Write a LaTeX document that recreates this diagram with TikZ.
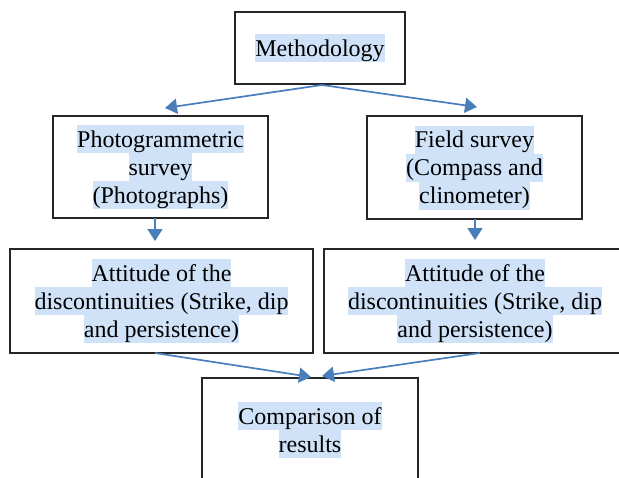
\documentclass[tikz,border=0pt]{standalone}
\usepackage{fontspec}
\setmainfont{Liberation Serif}
\usetikzlibrary{arrows.meta}
\definecolor{hlc}{HTML}{CFE2F8}
\definecolor{arrc}{HTML}{4A7EBB}
\newcommand\hl[1]{{\setlength{\fboxsep}{0pt}\colorbox{hlc}{\rule[-6pt]{0pt}{28pt}#1}}}
\begin{document}
\begin{tikzpicture}[x=1pt,y=-1pt,
  box/.style={draw=black!85,line width=1.2pt,fill=white,inner sep=0pt,align=center,
    font=\fontsize{24}{28}\selectfont},
  arr/.style={draw=arrc,line width=1.7pt,-{Triangle[length=12pt,width=15pt]}}]
\useasboundingbox (0,0) rectangle (619,477);
\clip (0,0) rectangle (619,477);
\fill[white] (0,0) rectangle (619,477);
\node[box,minimum width=170pt,minimum height=72pt] (meth) at (320,48) {\hl{Methodology}};
\node[box,minimum width=215pt,minimum height=102pt] (photo) at (160.5,167) {\hl{Photogrammetric}\\\hl{survey}\\\hl{(Photographs)}};
\node[box,minimum width=215pt,minimum height=103pt] (field) at (474.5,167.5) {\hl{Field survey}\\\hl{(Compass and}\\\hl{clinometer)}};
\node[box,minimum width=303pt,minimum height=104pt] (attl) at (161.5,301) {\hl{Attitude of the}\\\hl{discontinuities (Strike, dip}\\\hl{and persistence)}};
\node[box,minimum width=302pt,minimum height=104pt] (attr) at (475,301) {\hl{Attitude of the}\\\hl{discontinuities (Strike, dip}\\\hl{and persistence)}};
\node[box,minimum width=216pt,minimum height=104pt] (comp) at (310,430) {\hl{Comparison of}\\\hl{results}};
\coordinate (s0) at (322,85);
\coordinate (t1) at (165,108);
\coordinate (t2) at (477,107);
\coordinate (s3) at (155,218);
\coordinate (t3) at (155,241);
\coordinate (s4) at (475,219);
\coordinate (t4) at (475,240);
\coordinate (s5) at (155,353);
\coordinate (t5) at (311,377);
\coordinate (s6) at (480,353);
\coordinate (t6) at (322,376);
\draw[arr] (s0) -- (t1);
\draw[arr] (s0) -- (t2);
\draw[arr] (s3) -- (t3);
\draw[arr] (s4) -- (t4);
\draw[arr] (s5) -- (t5);
\draw[arr] (s6) -- (t6);
\end{tikzpicture}
\end{document}
